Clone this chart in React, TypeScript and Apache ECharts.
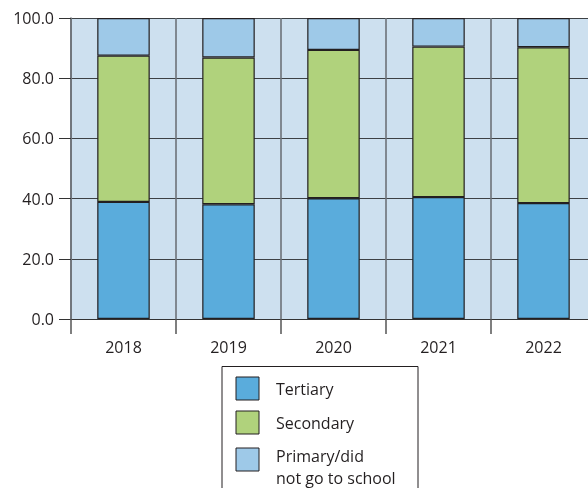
import React, { useEffect, useRef } from "react";
import * as echarts from "echarts";

const years = ["2018", "2019", "2020", "2021", "2022"];
const tertiary = [38.9, 38.1, 40.1, 40.5, 38.5];
const secondary = [48.6, 48.8, 49.3, 50.0, 51.8];
const primary = [12.5, 13.1, 10.6, 9.5, 9.7];
const seriesNames = ["Tertiary", "Secondary", "Primary/did\nnot go to school"];
const seriesColors = ["#5aacdc", "#b0d27c", "#9ec9e8"];

const FONT = "'Open Sans', 'Noto Sans', sans-serif";
const TEXT = "#231f20";

export default function App() {
  const ref = useRef<HTMLDivElement>(null);
  useEffect(() => {
    if (!ref.current) return;
    const chart = echarts.init(ref.current, null, { renderer: "svg" });
    const values = [tertiary, secondary, primary];
    const legendTops = [377, 411, 448];
    const legendGraphics: any[] = [
      {
        type: "rect",
        shape: { x: 222, y: 366.5, width: 196, height: 140 },
        style: { fill: "#fff", stroke: TEXT, lineWidth: 1 },
      },
    ];
    seriesNames.forEach((n, i) => {
      legendGraphics.push({
        type: "rect",
        shape: { x: 236, y: legendTops[i], width: 23, height: 23 },
        style: { fill: seriesColors[i], stroke: TEXT, lineWidth: 1 },
      });
      legendGraphics.push({
        type: "text",
        x: 276,
        y: i === 2 ? legendTops[i] - 3 : legendTops[i] + 11.5,
        style: {
          text: n,
          font: `16px ${FONT}`,
          fill: TEXT,
          verticalAlign: i === 2 ? "top" : "middle",
          lineHeight: 22,
        },
      });
    });
    chart.setOption({
      animation: false,
      grid: {
        left: 71,
        right: 0,
        top: 18,
        bottom: 169,
        show: true,
        backgroundColor: "#cde0ef",
        borderWidth: 0,
      },
      xAxis: {
        type: "category",
        data: years,
        axisLine: { show: true, lineStyle: { color: "#333", width: 1 } },
        axisTick: { show: true, length: 15, lineStyle: { color: "#555", width: 1.5 } },
        axisLabel: { color: TEXT, fontSize: 16, fontFamily: FONT, margin: 20 },
        splitLine: { show: true, lineStyle: { color: "#6d7278", width: 1.6 } },
      },
      yAxis: {
        type: "value",
        min: 0,
        max: 100,
        interval: 20,
        axisLine: { show: true, lineStyle: { color: "#6d7278", width: 1.6 } },
        axisTick: { show: true, length: 12, lineStyle: { color: "#333", width: 1 } },
        axisLabel: {
          color: TEXT,
          fontSize: 16,
          fontFamily: FONT,
          margin: 17,
          formatter: (v: number) => v.toFixed(1),
        },
        splitLine: { show: true, lineStyle: { color: "#3d4145", width: 1 } },
      },
      series: seriesNames.map((n, i) => ({
        name: n,
        type: "bar",
        stack: "total",
        barWidth: "50%",
        data: values[i],
        itemStyle: { color: seriesColors[i], borderColor: TEXT, borderWidth: 1.2 },
        z: 3,
      })),
      graphic: legendGraphics,
    });
    return () => chart.dispose();
  }, []);
  return (
    <div
      ref={ref}
      style={{ position: "fixed", left: 0, top: 0, width: 596, height: 488 }}
    />
  );
}
